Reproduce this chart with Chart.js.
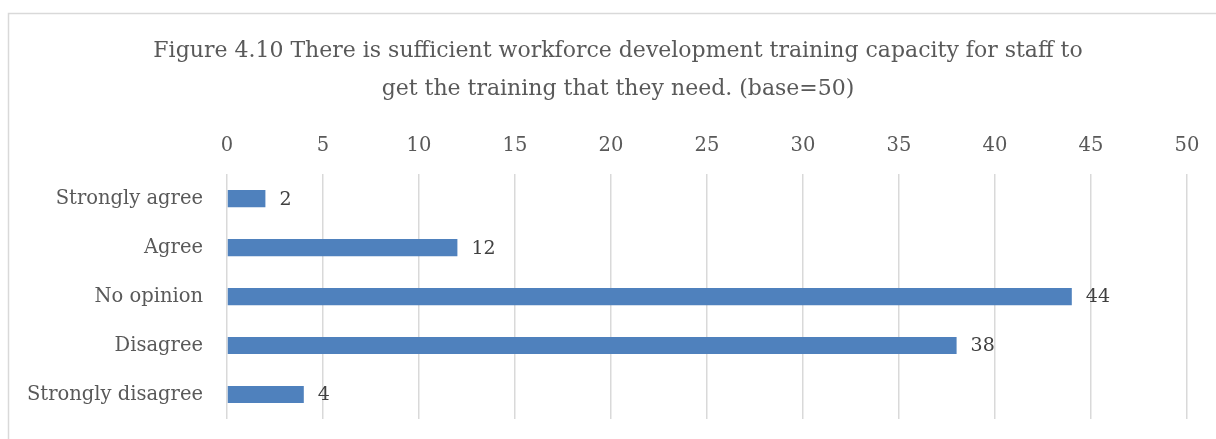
<!DOCTYPE html>
<html>
<head>
<meta charset="utf-8">
<script src="https://cdn.jsdelivr.net/npm/chart.js@4/dist/chart.umd.min.js"></script>
<style>
  html, body { margin: 0; padding: 0; background: #ffffff; }
  #wrap { position: relative; width: 1216px; height: 439px; }
</style>
</head>
<body>
<div id="wrap"><canvas id="c" width="1216" height="439"></canvas></div>
<script>
const titleLines = [
  "Figure 4.10 There is sufficient workforce development training capacity for staff to",
  "get the training that they need. (base=50)"
];
const categories = ["Strongly agree", "Agree", "No opinion", "Disagree", "Strongly disagree"];
const values = [2, 12, 44, 38, 4];
const axisMin = 0;
const axisMax = 50;
const axisStep = 5;

const FONT = "'DejaVu Serif', 'Liberation Serif', serif";

const frame = {
  id: 'frame',
  beforeDraw(chart) {
    const ctx = chart.ctx;
    ctx.save();
    ctx.fillStyle = '#ffffff';
    ctx.fillRect(0, 0, chart.width, chart.height);
    ctx.strokeStyle = '#d9d9d9';
    ctx.lineWidth = 1.5;
    ctx.strokeRect(8.5, 13.5, 1400, 600);
    ctx.restore();
  }
};

const valueLabels = {
  id: 'valueLabels',
  afterDatasetsDraw(chart) {
    const ctx = chart.ctx;
    const meta = chart.getDatasetMeta(0);
    ctx.save();
    ctx.font = "19px " + FONT;
    ctx.fillStyle = '#404040';
    ctx.textAlign = 'left';
    ctx.textBaseline = 'middle';
    meta.data.forEach((bar, i) => {
      ctx.fillText(String(values[i]), bar.x + 14, bar.y + 1);
    });
    ctx.restore();
  }
};

new Chart(document.getElementById('c'), {
  type: 'bar',
  data: {
    labels: categories,
    datasets: [{
      data: values,
      backgroundColor: '#4f81bd',
      borderColor: '#4f81bd',
      borderWidth: 0,
      categoryPercentage: 1.0,
      barPercentage: 0.35
    }]
  },
  options: {
    indexAxis: 'y',
    responsive: false,
    animation: false,
    devicePixelRatio: 1,
    layout: { padding: { left: 20, right: 0, top: 0, bottom: 20 } },
    plugins: {
      legend: { display: false },
      tooltip: { enabled: false },
      title: {
        display: true,
        text: titleLines,
        color: '#595959',
        font: { family: FONT, size: 22, weight: 'normal', lineHeight: 1.73 },
        padding: { top: 32, bottom: 0 }
      }
    },
    scales: {
      x: {
        position: 'top',
        min: axisMin,
        max: axisMax,
        ticks: {
          stepSize: axisStep,
          color: '#595959',
          font: { family: FONT, size: 19.5 },
          padding: 16
        },
        grid: { color: '#d9d9d9', lineWidth: 1.5, drawTicks: false },
        border: { display: false },
        afterFit(scale) { scale.height = 66; scale.paddingLeft = 0; scale.paddingRight = 29; }
      },
      y: {
        ticks: {
          color: '#595959',
          font: { family: FONT, size: 19.5 },
          padding: 24
        },
        grid: { display: false, drawTicks: false },
        border: { display: false },
        afterFit(scale) {
          scale.width = 207;
          scale.paddingTop = 0;
          scale.paddingBottom = 0;
        }
      }
    }
  },
  plugins: [frame, valueLabels]
});
</script>
</body>
</html>
